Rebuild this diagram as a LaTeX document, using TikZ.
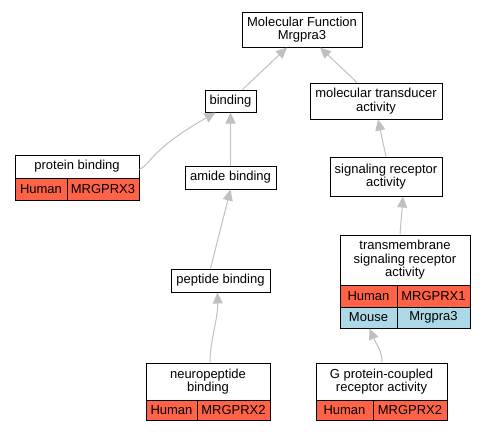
\documentclass[tikz,border=0pt]{standalone}
\usepackage{fontspec}
\setmainfont{Liberation Sans}
\usetikzlibrary{arrows.meta}
\definecolor{humancol}{HTML}{FF6347}
\definecolor{mousecol}{HTML}{ADD8E6}
\definecolor{edgecol}{HTML}{C0C0C0}
\tikzset{
	term/.style={draw, fill=white, line width=1pt, inner sep=0pt, align=center, font=\fontsize{13}{13.5}\selectfont},
	cellhuman/.style={term, fill=humancol},
	cellmouse/.style={term, fill=mousecol},
	isa/.style={draw=edgecol, line width=1pt, -{Triangle[length=11pt,width=10pt]}, color=edgecol}
}
\begin{document}
\begin{tikzpicture}[x=1pt,y=-1pt]
	\useasboundingbox (0,0) rectangle (487,432);
%
	\node[term, minimum width=120, minimum height=35] (mf) at (302,29.5) {Molecular Function\\Mrgpra3};
	\node[term, minimum width=51, minimum height=22] (bind) at (230.5,101) {binding};
	\node[term, minimum width=132, minimum height=36] (transd) at (376,101) {molecular transducer\\activity};
	\node[term, minimum width=91, minimum height=23] (amide) at (230.5,177.5) {amide binding};
	\node[term, minimum width=112, minimum height=39] (sigrec) at (386,176.5) {signaling receptor\\activity};
	\node[term, minimum width=99, minimum height=23] (pept) at (220.5,280.5) {peptide binding};
%
	\node[term, minimum width=124, minimum height=23] (prot) at (77,166.5) {protein binding};
		\node[cellhuman, minimum width=52, minimum height=22] (protH) at (41,189) {Human};
		\node[cellhuman, minimum width=72, minimum height=22] (protG) at (103,189) {MRGPRX3};
%
	\node[term, minimum width=130, minimum height=50] (tmsr) at (405,260) {transmembrane\\signaling receptor\\activity};
		\node[cellhuman, minimum width=57, minimum height=22] (tmsrH) at (368.5,296) {Human};
		\node[cellhuman, minimum width=73, minimum height=22] (tmsrG) at (433.5,296) {MRGPRX1};
		\node[cellmouse, minimum width=57, minimum height=21] (tmsrM) at (368.5,317.5) {Mouse};
		\node[cellmouse, minimum width=73, minimum height=21] (tmsrMG) at (433.5,317.5) {Mrgpra3};
%
	\node[term, minimum width=124, minimum height=37] (neuro) at (208,381.5) {neuropeptide\\binding};
		\node[cellhuman, minimum width=51, minimum height=20] (neuroH) at (171.5,410) {Human};
		\node[cellhuman, minimum width=73, minimum height=20] (neuroG) at (233.5,410) {MRGPRX2};
%
	\node[term, minimum width=131, minimum height=37] (gpcr) at (381.5,381.5) {G protein-coupled\\receptor activity};
		\node[cellhuman, minimum width=57, minimum height=20] (gpcrH) at (344.5,410) {Human};
		\node[cellhuman, minimum width=74, minimum height=20] (gpcrG) at (410,410) {MRGPRX2};
%
	\draw[isa] ([xshift=12pt]bind.north) -- ([xshift=-15pt]mf.south);
	\draw[isa] ([xshift=-19pt]transd.north) -- ([xshift=18pt]mf.south);
	\draw[isa] ([yshift=-3pt]prot.east) .. controls (152,163) and (150,150) .. ([xshift=-15pt]bind.south);
	\draw[isa] (amide.north) -- (bind.south);
	\draw[isa] ([xshift=-10pt]pept.north) -- (amide.south);
	\draw[isa] ([xshift=2pt]neuro.north) .. controls (210,340) and (218,320) .. ([xshift=-3pt]pept.south);
	\draw[isa] (sigrec.north) -- ([xshift=2pt]transd.south);
	\draw[isa] ([xshift=-5pt]tmsr.north) -- ([xshift=17pt]sigrec.south);
	\draw[isa] ([xshift=0.5pt]gpcr.north) .. controls (382,350) and (376,344) .. ([xshift=1pt]tmsrM.south);
\end{tikzpicture}
\end{document}
